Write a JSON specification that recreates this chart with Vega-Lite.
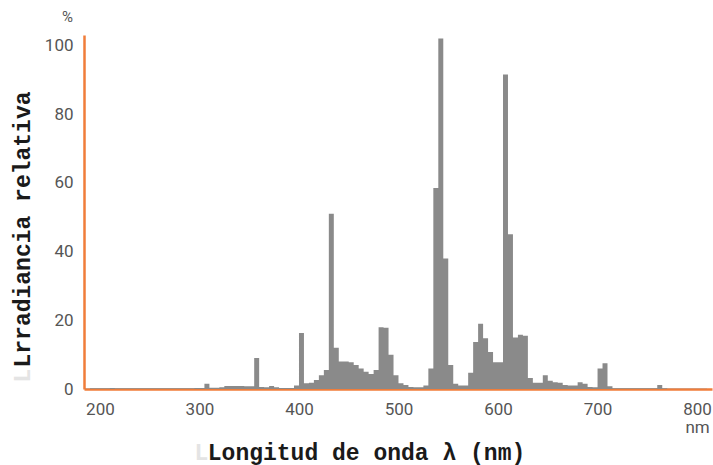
{
  "$schema": "https://vega.github.io/schema/vega-lite/v6.json",
  "width": 628,
  "height": 354,
  "autosize": {"type": "none"},
  "padding": {"left": 84, "top": 35, "right": 1, "bottom": 76},
  "background": "white",
  "title": {"text": "%", "anchor": "start", "frame": "group", "dx": -22, "offset": 10, "fontSize": 15, "font": "Liberation Sans Narrow, Roboto, Liberation Sans", "color": "#555555", "fontWeight": "normal"},
  "data": {"values": [
    {"nm": 185, "v": 0.1}, {"nm": 190, "v": 0.2}, {"nm": 195, "v": 0.2}, {"nm": 200, "v": 0.2}, {"nm": 205, "v": 0.2},
    {"nm": 210, "v": 0.3}, {"nm": 215, "v": 0.2}, {"nm": 220, "v": 0.2}, {"nm": 225, "v": 0.2}, {"nm": 230, "v": 0.2},
    {"nm": 235, "v": 0.2}, {"nm": 240, "v": 0.2}, {"nm": 245, "v": 0.2}, {"nm": 250, "v": 0.2}, {"nm": 255, "v": 0.2},
    {"nm": 260, "v": 0.2}, {"nm": 265, "v": 0.2}, {"nm": 270, "v": 0.2}, {"nm": 275, "v": 0.2}, {"nm": 280, "v": 0.2},
    {"nm": 285, "v": 0.2}, {"nm": 290, "v": 0.2}, {"nm": 295, "v": 0.3}, {"nm": 300, "v": 0.3}, {"nm": 305, "v": 1.5},
    {"nm": 310, "v": 0.4}, {"nm": 315, "v": 0.4}, {"nm": 320, "v": 0.5}, {"nm": 325, "v": 0.9}, {"nm": 330, "v": 0.9},
    {"nm": 335, "v": 0.9}, {"nm": 340, "v": 0.9}, {"nm": 345, "v": 0.8}, {"nm": 350, "v": 0.8}, {"nm": 355, "v": 9},
    {"nm": 360, "v": 0.6}, {"nm": 365, "v": 0.5}, {"nm": 370, "v": 0.9}, {"nm": 375, "v": 0.5}, {"nm": 380, "v": 0.3},
    {"nm": 385, "v": 0.3}, {"nm": 390, "v": 0.3}, {"nm": 395, "v": 1}, {"nm": 400, "v": 16.3}, {"nm": 405, "v": 1.7},
    {"nm": 410, "v": 1.8}, {"nm": 415, "v": 2.6}, {"nm": 420, "v": 4}, {"nm": 425, "v": 5.5}, {"nm": 430, "v": 51},
    {"nm": 435, "v": 12}, {"nm": 440, "v": 8}, {"nm": 445, "v": 8}, {"nm": 450, "v": 7.8}, {"nm": 455, "v": 7},
    {"nm": 460, "v": 6}, {"nm": 465, "v": 5}, {"nm": 470, "v": 4.4}, {"nm": 475, "v": 5.5}, {"nm": 480, "v": 18},
    {"nm": 485, "v": 17.8}, {"nm": 490, "v": 10}, {"nm": 495, "v": 4}, {"nm": 500, "v": 1.7}, {"nm": 505, "v": 1.2},
    {"nm": 510, "v": 0.6}, {"nm": 515, "v": 0.5}, {"nm": 520, "v": 0.5}, {"nm": 525, "v": 1}, {"nm": 530, "v": 6},
    {"nm": 535, "v": 58.5}, {"nm": 540, "v": 102}, {"nm": 545, "v": 38}, {"nm": 550, "v": 7}, {"nm": 555, "v": 1.5},
    {"nm": 560, "v": 1}, {"nm": 565, "v": 1}, {"nm": 570, "v": 4.7}, {"nm": 575, "v": 13.7}, {"nm": 580, "v": 19},
    {"nm": 585, "v": 14.8}, {"nm": 590, "v": 10.8}, {"nm": 595, "v": 7.8}, {"nm": 600, "v": 7.8}, {"nm": 605, "v": 91.5},
    {"nm": 610, "v": 45}, {"nm": 615, "v": 15}, {"nm": 620, "v": 15.8}, {"nm": 625, "v": 15.5}, {"nm": 630, "v": 3.2},
    {"nm": 635, "v": 1.8}, {"nm": 640, "v": 1.8}, {"nm": 645, "v": 4}, {"nm": 650, "v": 2.4}, {"nm": 655, "v": 2},
    {"nm": 660, "v": 1.8}, {"nm": 665, "v": 1.2}, {"nm": 670, "v": 1}, {"nm": 675, "v": 1}, {"nm": 680, "v": 2},
    {"nm": 685, "v": 1.5}, {"nm": 690, "v": 0.6}, {"nm": 695, "v": 0.5}, {"nm": 700, "v": 6}, {"nm": 705, "v": 7.5},
    {"nm": 710, "v": 0.8}, {"nm": 715, "v": 0.2}, {"nm": 720, "v": 0.2}, {"nm": 725, "v": 0.2}, {"nm": 730, "v": 0.2},
    {"nm": 735, "v": 0.2}, {"nm": 740, "v": 0.2}, {"nm": 745, "v": 0.2}, {"nm": 750, "v": 0.2}, {"nm": 755, "v": 0.2},
    {"nm": 760, "v": 1.2}, {"nm": 765, "v": 0.2}, {"nm": 770, "v": 0.1}, {"nm": 775, "v": 0.1}, {"nm": 780, "v": 0.1},
    {"nm": 785, "v": 0.1}, {"nm": 790, "v": 0.1}, {"nm": 795, "v": 0.1}, {"nm": 800, "v": 0.1}, {"nm": 805, "v": 0.1},
    {"nm": 810, "v": 0}
  ]},
  "layer": [
    {
      "mark": {"type": "area", "interpolate": "step-after", "color": "#8a8a8a"},
      "encoding": {
        "x": {
          "field": "nm", "type": "quantitative",
          "scale": {"domain": [184, 815], "nice": false, "zero": false},
          "axis": {
            "orient": "bottom",
            "values": [200, 300, 400, 500, 600, 700, 800],
            "grid": false, "ticks": false, "tickSize": 0,
            "domainColor": "#f07d3a", "domainWidth": 2.5,
            "labelFont": "Liberation Sans Narrow, Roboto, Liberation Sans", "labelFontSize": 17, "labelColor": "#555555",
            "labelPadding": 12, "labelLineHeight": 18,
            "labelExpr": "datum.value == 800 ? ['800', ' nm'] : datum.label",
            "labelFlush": false,
            "title": "Longitud de onda λ (nm)",
            "titleFont": "Liberation Mono", "titleFontSize": 23, "titleFontWeight": "bold", "titleColor": "#1a1a1a",
            "titleX": 282, "titleY": 70, "titleAlign": "center", "titleBaseline": "alphabetic"
          }
        },
        "y": {
          "field": "v", "type": "quantitative",
          "scale": {"domain": [0, 103], "nice": false},
          "axis": {
            "orient": "left",
            "values": [0, 20, 40, 60, 80, 100],
            "grid": false, "ticks": false, "tickSize": 0,
            "domainColor": "#f07d3a", "domainWidth": 2.5,
            "labelFont": "Liberation Sans Narrow, Roboto, Liberation Sans", "labelFontSize": 17, "labelColor": "#555555",
            "labelPadding": 11,
            "title": "Lrradiancia relativa",
            "titleFont": "Liberation Mono", "titleFontSize": 23, "titleFontWeight": "bold", "titleColor": "#1a1a1a",
            "titleAngle": -90, "titleX": -62, "titleY": 194, "titleAlign": "center", "titleBaseline": "middle"
          }
        }
      }
    },
    {
      "mark": {"type": "area", "interpolate": "step-after", "opacity": 0},
      "encoding": {
        "x": {
          "field": "nm", "type": "quantitative",
          "axis": {
            "orient": "bottom", "labels": false, "ticks": false, "domain": false, "grid": false,
            "title": "L",
            "titleFont": "Liberation Mono", "titleFontSize": 23, "titleFontWeight": "bold", "titleColor": "#e4e4e4",
            "titleX": 117, "titleY": 70, "titleAlign": "center", "titleBaseline": "alphabetic"
          }
        },
        "y": {
          "field": "v", "type": "quantitative",
          "axis": {
            "orient": "left", "labels": false, "ticks": false, "domain": false, "grid": false,
            "title": "L",
            "titleFont": "Liberation Mono", "titleFontSize": 23, "titleFontWeight": "bold", "titleColor": "#e4e4e4",
            "titleAngle": -90, "titleX": -62, "titleY": 340, "titleAlign": "center", "titleBaseline": "middle"
          }
        }
      }
    }
  ],
  "resolve": {"axis": {"x": "independent", "y": "independent"}},
  "config": {"view": {"stroke": null}}
}
